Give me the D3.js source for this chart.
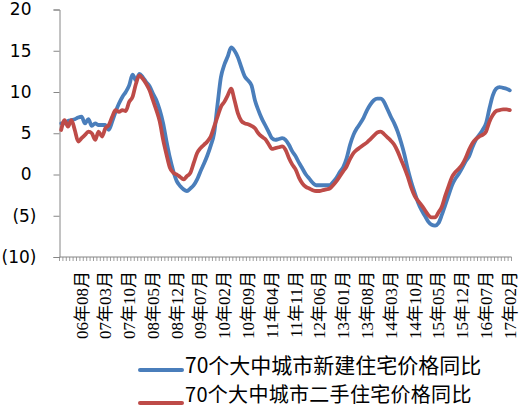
<!DOCTYPE html>
<html>
<head>
<meta charset="utf-8">
<script src="https://cdn.jsdelivr.net/npm/d3@7"></script>
<style>
	body { margin: 0; background: #fff; }
	svg { display: block; }
</style>
</head>
<body>
<div id="chart"></div>
<script>
// months 2006-02 .. 2017-02
var months = [];
for (var yy = 2006; yy <= 2017; yy++) {
	for (var mm = 1; mm <= 12; mm++) {
		if (yy == 2006 && mm < 2) continue;
		if (yy == 2017 && mm > 2) break;
		months.push(String(yy).slice(2) + "年" + (mm < 10 ? "0" : "") + mm + "月");
	}
}

var labelMonths = [
	"06年08月", "07年03月", "07年10月", "08年05月", "08年12月", "09年07月", "10年02月",
	"10年09月", "11年04月", "11年11月", "12年06月", "13年01月", "13年08月", "14年03月",
	"14年10月", "15年05月", "15年12月", "16年07月", "17年02月"
];

var yTicks = [-10, -5, 0, 5, 10, 15, 20];

var seriesNames = ["70个大中城市新建住宅价格同比", "70个大中城市二手住宅价格同比"];

var newHomes = [
	6.2, 6.2, 6.5, 6.6, 6.7, 6.9, 7.0, 6.2, 6.7, 5.9,
	6.2, 6.0, 6.0, 6.0, 5.4, 6.4, 7.6, 8.6, 9.4, 10.0,
	10.8, 12.1, 11.4, 12.2, 11.8, 11.2, 10.7, 9.8, 9.0, 7.8,
	6.2, 4.0, 2.0, 0.4, -0.8, -1.4, -1.8, -2.0, -1.7, -1.3,
	-0.6, 0.4, 1.3, 2.3, 3.5, 5.0, 8.5, 11.8, 13.3, 14.3,
	15.4, 15.0, 14.2, 13.0, 11.9, 11.4, 10.8, 9.0, 7.8, 6.8,
	6.0, 5.2, 4.4, 4.2, 4.3, 4.4, 4.2, 3.6, 2.8, 2.2,
	1.4, 0.7, 0.0, -0.5, -1.0, -1.3, -1.3, -1.3, -1.3, -1.3,
	-0.9, -0.4, 0.3, 0.9, 2.0, 3.6, 4.8, 5.6, 6.2, 6.9,
	7.8, 8.5, 9.0, 9.2, 9.2, 8.8, 7.9, 7.0, 6.2, 5.2,
	3.9, 2.4, 0.6, -0.9, -2.2, -3.4, -4.3, -5.0, -5.7, -6.1,
	-6.2, -5.9, -4.9, -3.7, -2.5, -1.3, -0.5, 0.1, 0.8, 1.6,
	2.2, 3.3, 4.2, 4.8, 5.4, 6.2, 8.0, 9.6, 10.4, 10.6,
	10.5, 10.4, 10.2
];

var usedHomes = [
	5.4, 6.6, 5.8, 6.6, 5.4, 4.0, 4.4, 4.8, 5.2, 5.0,
	4.2, 5.2, 4.6, 5.6, 6.0, 7.0, 7.8, 7.6, 7.8, 7.7,
	8.8, 9.4, 11.0, 12.0, 11.6, 11.0, 10.2, 9.0, 7.8, 6.4,
	4.2, 2.4, 0.8, 0.2, 0.0, -0.3, -0.6, -0.2, 0.2, 1.4,
	2.6, 3.2, 3.6, 4.0, 4.6, 5.8, 7.0, 8.2, 8.8, 9.6,
	10.4, 9.0, 7.4, 6.5, 6.2, 6.1, 5.9, 5.6, 5.0, 4.6,
	4.3, 3.7, 3.1, 3.2, 3.3, 3.4, 3.0, 2.0, 1.2, 0.6,
	-0.4, -1.1, -1.5, -1.7, -1.9, -2.0, -2.0, -1.9, -1.8, -1.7,
	-1.3, -0.8, -0.2, 0.4, 1.0, 1.9, 2.6, 3.0, 3.3, 3.6,
	3.9, 4.3, 4.7, 5.1, 5.2, 4.9, 4.5, 4.1, 3.6, 2.8,
	1.8, 0.8, -0.3, -1.6, -2.6, -3.2, -3.7, -4.3, -4.9, -5.2,
	-5.2, -4.6, -3.9, -2.6, -1.4, -0.3, 0.3, 0.7, 1.2, 2.0,
	3.0, 3.8, 4.3, 4.6, 4.8, 5.2, 6.4, 7.2, 7.7, 7.8,
	7.9, 7.9, 7.8
];

var colors = ["#4a7ebb", "#be4b48"];

var width = 519,
	height = 408,
	plot = { left: 59.5, right: 511.5, top: 9.5, bottom: 257 },
	axisColor = "#868686";

var svg = d3.select("#chart")
	.append("svg")
	.attr("width", width)
	.attr("height", height);

var x = d3.scaleBand()
	.domain(months)
	.range([plot.left, plot.right])
	.paddingInner(0)
	.paddingOuter(0);

var y = d3.scaleLinear()
	.domain([-10, 20])
	.range([plot.bottom, plot.top]);

// y axis
var yAxis = d3.axisLeft(y)
	.tickValues(yTicks)
	.tickSize(6)
	.tickPadding(22)
	.tickFormat(function (d) { return d < 0 ? "(" + (-d) + ")" : d; });

var yAxisGroup = svg.append("g")
	.attr("transform", "translate(" + plot.left + ",0)")
	.call(yAxis);

yAxisGroup.select(".domain").attr("stroke", axisColor);
yAxisGroup.selectAll(".tick line").attr("stroke", axisColor);
yAxisGroup.selectAll(".tick text")
	.attr("fill", "#000")
	.style("font-family", "'DejaVu Sans', sans-serif")
	.style("font-size", "17px")
	.attr("dx", function (d) { return d < 0 ? 5 : 0; });

// x axis line + ticks between months
svg.append("line")
	.attr("x1", plot.left)
	.attr("x2", plot.right)
	.attr("y1", plot.bottom)
	.attr("y2", plot.bottom)
	.attr("stroke", axisColor);

svg.append("g")
	.selectAll("line")
	.data(months.concat(["end"]))
	.enter()
	.append("line")
	.attr("x1", function (d) { return d == "end" ? x.range()[1] : x(d); })
	.attr("x2", function (d) { return d == "end" ? x.range()[1] : x(d); })
	.attr("y1", plot.bottom)
	.attr("y2", plot.bottom + 4)
	.attr("stroke", axisColor)
	.attr("stroke-width", 0.8);

svg.append("g")
	.selectAll("text")
	.data(labelMonths)
	.enter()
	.append("text")
	.attr("transform", function (d) {
		return "translate(" + (x(d) + x.bandwidth() / 2) + "," + 271 + ") rotate(-90)";
	})
	.attr("text-anchor", "end")
	.attr("dy", "0.35em")
	.style("font-family", "'Liberation Serif', 'Noto Sans CJK SC', serif")
	.style("font-size", "17px")
	.text(function (d) { return d; });

// lines
var line = d3.line()
	.x(function (d, i) { return x(months[i]) + x.bandwidth() / 2; })
	.y(function (d) { return y(d); })
	.curve(d3.curveMonotoneX);

[newHomes, usedHomes].forEach(function (values, k) {
	svg.append("path")
		.datum(values)
		.attr("d", line)
		.attr("fill", "none")
		.attr("stroke", colors[k])
		.attr("stroke-width", 3.8)
		.attr("stroke-linejoin", "round")
		.attr("stroke-linecap", "round");
});

// legend (second row sits on the bottom edge, keep it inside)
var legendRows = [
	{ lineY: 370, textY: 373, size: 21 },
	{ lineY: 403, textY: 401.5, size: 20 }
];
var legend = svg.append("g");
seriesNames.forEach(function (name, k) {
	var row = legendRows[k];
	legend.append("line")
		.attr("x1", 140)
		.attr("x2", 182)
		.attr("y1", row.lineY)
		.attr("y2", row.lineY)
		.attr("stroke", colors[k])
		.attr("stroke-width", 4)
		.attr("stroke-linecap", "round");
	legend.append("text")
		.attr("x", 185)
		.attr("y", row.textY)
		.style("font-family", "'Noto Sans CJK SC', sans-serif")
		.style("font-size", row.size + "px")
		.style("letter-spacing", k == 1 ? "0.3px" : "0px")
		.text(name);
});
</script>
</body>
</html>
